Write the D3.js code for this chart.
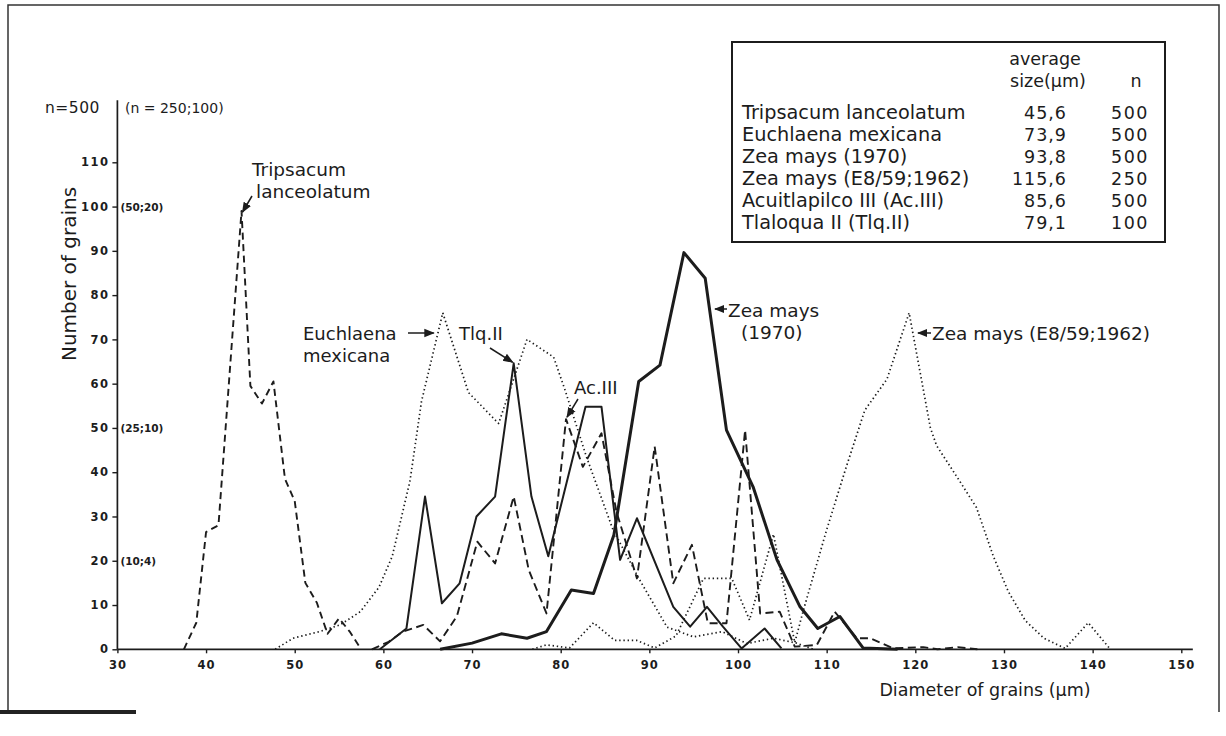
<!DOCTYPE html>
<html>
<head>
<meta charset="utf-8">
<script src="https://cdn.jsdelivr.net/npm/d3@7"></script>
<style>
  body { margin: 0; background: #fff; }
  svg { display: block; font-family: "DejaVu Sans", sans-serif; }
</style>
</head>
<body>
<svg width="1226" height="736"></svg>
<script>
// axis ticks
var xTicks = [30, 40, 50, 60, 70, 80, 90, 100, 110, 120, 130, 140, 150];
var yTicks = [0, 10, 20, 30, 40, 50, 60, 70, 80, 90, 100, 110];
var altTicks = [100, 50, 20];
var altLabels = ["(50;20)", "(25;10)", "(10;4)"];

// Tripsacum lanceolatum (dashed)
var tripX = [37.5, 38.9, 40.0, 41.4, 44.0, 45.0, 46.3, 47.6, 48.9, 50.0, 51.2, 52.5, 53.7, 55.0, 56.2, 57.5];
var tripY = [0, 6, 26.5, 28, 99, 59.5, 55.5, 60.5, 38.5, 33.5, 15, 10.5, 3.5, 7, 4, 0];

// Euchlaena mexicana (dotted)
var euchX = [47.8, 49.8, 52.8, 55.1, 57.4, 59.5, 61.0, 63.0, 64.3, 66.7, 69.6, 73.0, 76.2, 79.2, 80.5, 82.9, 85.9, 88.9, 92.0, 95.0, 98.2, 101.0, 104.0, 106.6, 108.5];
var euchY = [0, 2.5, 4, 5.5, 8.5, 14, 21, 38, 56, 76, 58, 51, 70, 66, 58.5, 43.5, 27, 15.7, 5, 2.8, 4, 1.3, 2.5, 1.4, 0];

// Zea mays (1970) (thick solid)
var zea70X = [66.4, 70.0, 73.3, 76.2, 78.4, 81.2, 83.7, 86.0, 88.8, 91.2, 93.9, 96.3, 98.7, 101.7, 104.4, 107.0, 109.0, 111.5, 114.1, 118.0];
var zea70Y = [0, 1.4, 3.5, 2.5, 4, 13.4, 12.6, 25.8, 60.5, 64.2, 89.6, 83.8, 49.5, 36.7, 20.2, 9.6, 4.7, 7.4, 0.3, 0];

// Zea mays (E8/59;1962) (dotted)
var zea62X = [76.8, 78.4, 81.0, 83.7, 86.1, 88.6, 90.6, 93.0, 96.1, 99.3, 101.3, 104.0, 106.4, 107.4, 110.0, 112.1, 114.3, 116.8, 119.3, 121.7, 122.4, 125.0, 126.9, 128.8, 130.5, 132.4, 134.5, 136.9, 139.5, 142.0];
var zea62Y = [0, 1, 0.3, 6, 2, 2, 0.3, 3, 16, 16, 6.6, 26, 1.5, 9, 27, 40.5, 54, 61, 76, 50, 46, 38, 32, 21, 13, 6.5, 2.5, 0.2, 6, 0];

// Acuitlapilco III (dashed)
var acX = [58.7, 60.6, 62.2, 64.5, 66.4, 68.3, 70.6, 72.6, 74.7, 76.4, 78.4, 80.6, 82.5, 84.6, 86.3, 88.6, 90.6, 92.7, 94.8, 96.6, 98.7, 100.8, 102.5, 104.7, 106.4, 108.9, 110.9, 113.4, 114.9, 117.5, 120.9, 122.5, 124.8, 127.0];
var acY = [0, 1.7, 4, 5.5, 1.8, 7.5, 24.3, 19.4, 34.5, 17.9, 8.1, 52, 41.2, 48.8, 31, 16, 45.8, 14.9, 23.6, 5.9, 5.9, 49.5, 8.1, 8.5, 0.6, 1, 8.5, 2.5, 2.5, 0.2, 0.5, 0, 0.5, 0];

// Tlaloqua II (solid)
var tlqX = [59.6, 62.6, 64.7, 66.6, 68.6, 70.5, 72.6, 74.7, 76.7, 78.6, 82.8, 84.6, 86.7, 88.6, 92.7, 94.6, 96.5, 98.3, 100.4, 103.0, 104.9];
var tlqY = [0, 4.7, 34.5, 10.4, 14.9, 30, 34.5, 64.6, 34.5, 21, 54.8, 54.8, 20.2, 29.6, 9.6, 5.1, 9.6, 5.1, 0.2, 4.7, 0.2];

// legend table
var legNames = ["Tripsacum lanceolatum", "Euchlaena mexicana", "Zea mays (1970)", "Zea mays (E8/59;1962)", "Acuitlapilco III (Ac.III)", "Tlaloqua II (Tlq.II)"];
var legAvg = ["45,6", "73,9", "93,8", "115,6", "85,6", "79,1"];
var legN = ["500", "500", "500", "250", "500", "100"];

var ink = "#1c1c1c";
var svg = d3.select("svg");

var x = d3.scaleLinear().domain([30, 150]).range([117.4, 1181.3]);
var y = d3.scaleLinear().domain([0, 110]).range([649.3, 162.3]);

// page frame (top, left, right) and the bar at the bottom left
svg.append("path")
  .attr("d", "M8,712 L8,5 L1219,5 L1219,712")
  .attr("fill", "none").attr("stroke", "#333").attr("stroke-width", 1.5);
svg.append("rect")
  .attr("x", 0).attr("y", 710)
  .attr("width", 136).attr("height", 4)
  .attr("fill", "#222");

// x axis
var gx = svg.append("g")
  .attr("transform", "translate(0," + y(0) + ")")
  .call(d3.axisBottom(x).tickValues(xTicks).tickSize(4).tickSizeOuter(0));
gx.select(".domain").remove();
gx.append("line")
  .attr("x1", x(30)).attr("x2", x(151.3))
  .attr("stroke", ink).attr("stroke-width", 1.7);
gx.selectAll(".tick line").attr("stroke", ink).attr("stroke-width", 1.4);
gx.selectAll(".tick text")
  .attr("fill", ink)
  .attr("y", 12)
  .style("font-size", "11.5px")
  .style("font-weight", "bold")
  .style("letter-spacing", "1px")
  .style("font-family", "DejaVu Sans");

// y axis
var gy = svg.append("g")
  .attr("transform", "translate(" + x(30) + ",0)")
  .call(d3.axisLeft(y).tickValues(yTicks).tickSize(5).tickSizeOuter(0));
gy.select(".domain").remove();
gy.append("line")
  .attr("y1", y(0)).attr("y2", y(124))
  .attr("stroke", ink).attr("stroke-width", 1.7);
gy.selectAll(".tick line").attr("stroke", ink).attr("stroke-width", 1.4);
gy.selectAll(".tick text")
  .attr("fill", ink)
  .attr("x", -8)
  .style("font-size", "11.5px")
  .style("font-weight", "bold")
  .style("letter-spacing", "1.5px")
  .style("font-family", "DejaVu Sans");

// second scale labels on the y axis
svg.selectAll(".alt")
  .data(altTicks)
  .enter()
  .append("text")
  .attr("class", "alt")
  .attr("x", x(30) + 3)
  .attr("y", function (d) { return y(d) + 4; })
  .attr("fill", ink)
  .style("font-size", "10.5px")
  .style("font-weight", "bold")
  .text(function (d, i) { return altLabels[i]; });

svg.append("text").attr("x", 45).attr("y", 113).attr("fill", ink)
  .style("font-size", "15.5px").style("letter-spacing", "0.5px").text("n=500");
svg.append("text").attr("x", 125).attr("y", 113).attr("fill", ink)
  .style("font-size", "14px").text("(n = 250;100)");

svg.append("text")
  .attr("transform", "translate(76,274) rotate(-90)")
  .attr("text-anchor", "middle")
  .attr("fill", ink)
  .style("font-size", "20px")
  .text("Number of grains");

svg.append("text")
  .attr("x", 985).attr("y", 696)
  .attr("text-anchor", "middle")
  .attr("fill", ink)
  .style("font-size", "17.5px")
  .text("Diameter of grains (\u00b5m)");

// curves
var line = d3.line()
  .x(function (d) { return x(d[0]); })
  .y(function (d) { return y(d[1]); });

function pts(xs, ys) {
  return xs.map(function (v, i) { return [v, ys[i]]; });
}

var series = [
  { d: pts(euchX, euchY), w: 1.7, dash: "1.4,2.8" },
  { d: pts(zea62X, zea62Y), w: 1.7, dash: "1.4,2.8" },
  { d: pts(tripX, tripY), w: 1.9, dash: "7,4.5" },
  { d: pts(acX, acY), w: 1.9, dash: "8,4.5" },
  { d: pts(tlqX, tlqY), w: 2, dash: null },
  { d: pts(zea70X, zea70Y), w: 3, dash: null }
];

svg.append("g").selectAll("path")
  .data(series)
  .enter()
  .append("path")
  .attr("d", function (s) { return line(s.d); })
  .attr("fill", "none")
  .attr("stroke", ink)
  .attr("stroke-width", function (s) { return s.w; })
  .attr("stroke-linejoin", "round")
  .attr("stroke-dasharray", function (s) { return s.dash; });

// annotations
svg.append("defs").append("marker")
  .attr("id", "head")
  .attr("viewBox", "0 0 10 10")
  .attr("refX", 9).attr("refY", 5)
  .attr("markerWidth", 7).attr("markerHeight", 7)
  .attr("orient", "auto")
  .append("path").attr("d", "M0,1 L10,5 L0,9 z").attr("fill", ink);

function arrow(x1, y1, x2, y2) {
  svg.append("line")
    .attr("x1", x1).attr("y1", y1).attr("x2", x2).attr("y2", y2)
    .attr("stroke", ink).attr("stroke-width", 1.5)
    .attr("marker-end", "url(#head)");
}

function label(tx, ty, lines, size) {
  var t = svg.append("text").attr("x", tx).attr("y", ty).attr("fill", ink)
    .style("font-size", size + "px");
  lines.forEach(function (s, i) {
    t.append("tspan").attr("x", tx + (s.dx || 0)).attr("dy", i ? 21.5 : 0).text(s.t);
  });
}

label(252, 176, [{ t: "Tripsacum" }, { t: "lanceolatum", dx: 4 }], 18.5);
arrow(252, 196, x(44.0) + 1, y(99) + 1);

label(303, 340, [{ t: "Euchlaena" }, { t: "mexicana" }], 18);
arrow(408, 333, x(66.7) - 9, 333);

label(459, 340, [{ t: "Tlq.II" }], 18);
arrow(490, 348, x(74.7) - 1, y(64.6) - 1);

label(574, 394, [{ t: "Ac.III" }], 18);
arrow(578, 399, x(80.6) + 1, y(52) - 2);

label(728, 317, [{ t: "Zea mays" }, { t: "(1970)", dx: 13 }], 18.5);
arrow(727, 309, 715, 309);

label(932, 340, [{ t: "Zea mays (E8/59;1962)" }], 18.5);
arrow(931, 333, 918, 333);

// legend box
var leg = svg.append("g");
leg.append("rect")
  .attr("x", 732).attr("y", 42)
  .attr("width", 433).attr("height", 200)
  .attr("fill", "#fff").attr("stroke", ink).attr("stroke-width", 2);

leg.append("text").attr("x", 1045).attr("y", 65).attr("text-anchor", "middle")
  .attr("fill", ink).style("font-size", "17.5px").text("average");
leg.append("text").attr("x", 1048).attr("y", 87).attr("text-anchor", "middle")
  .attr("fill", ink).style("font-size", "17.5px").text("size(\u00b5m)");
leg.append("text").attr("x", 1136).attr("y", 87).attr("text-anchor", "middle")
  .attr("fill", ink).style("font-size", "17.5px").text("n");

var rowY = d3.scaleLinear().domain([0, 5]).range([118.5, 229]);

leg.selectAll(".nm").data(legNames).enter().append("text")
  .attr("x", 742).attr("y", function (d, i) { return rowY(i); })
  .attr("fill", ink).style("font-size", "19.3px")
  .text(function (d) { return d; });
leg.selectAll(".av").data(legAvg).enter().append("text")
  .attr("x", 1067).attr("y", function (d, i) { return rowY(i); })
  .attr("text-anchor", "end")
  .attr("fill", ink).style("font-size", "17.5px")
  .style("letter-spacing", "1px")
  .text(function (d) { return d; });
leg.selectAll(".nn").data(legN).enter().append("text")
  .attr("x", 1149).attr("y", function (d, i) { return rowY(i); })
  .attr("text-anchor", "end")
  .attr("fill", ink).style("font-size", "17.5px")
  .style("letter-spacing", "1.5px")
  .text(function (d) { return d; });
</script>
</body>
</html>
